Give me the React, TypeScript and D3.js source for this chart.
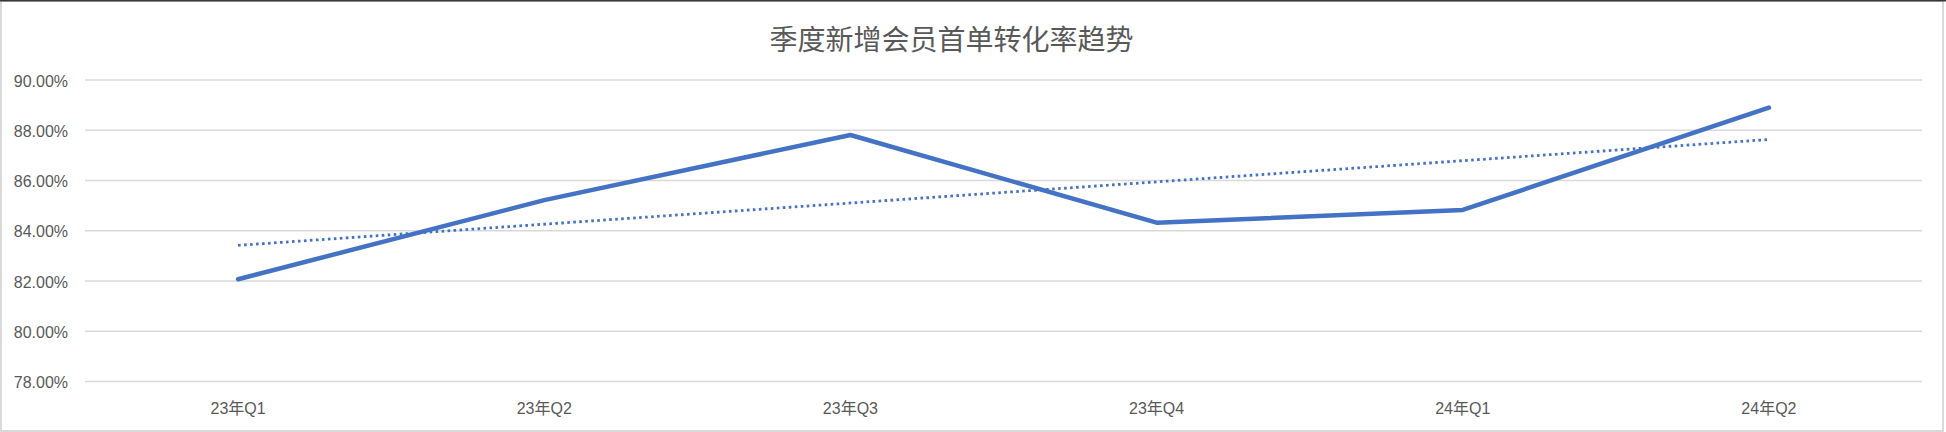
import React from "react";
import * as d3 from "d3";

const W = 1946;
const H = 432;

const title = "季度新增会员首单转化率趋势";
const categories = ["23年Q1", "23年Q2", "23年Q3", "23年Q4", "24年Q1", "24年Q2"];
const rates = [0.8207, 0.8522, 0.8781, 0.8432, 0.8483, 0.889];
const yTicks = [0.78, 0.8, 0.82, 0.84, 0.86, 0.88, 0.9];

const margin = { left: 85, right: 24, top: 80, bottom: 50.5 };

export default function App() {
  const x = d3
    .scalePoint<string>()
    .domain(categories)
    .range([margin.left, W - margin.right])
    .padding(0.5);
  const y = d3.scaleLinear().domain([0.78, 0.9]).range([H - margin.bottom, margin.top]);

  const pts: [number, number][] = rates.map((v, i) => [x(categories[i]) as number, y(v)]);
  const line = d3.line<[number, number]>().x((d) => d[0]).y((d) => d[1]);

  // linear trendline (least squares) from the data
  const n = rates.length;
  const xs = rates.map((_, i) => i + 1);
  const mx = d3.mean(xs) as number;
  const my = d3.mean(rates) as number;
  const slope =
    d3.sum(xs.map((xi, i) => (xi - mx) * (rates[i] - my))) /
    d3.sum(xs.map((xi) => (xi - mx) * (xi - mx)));
  const intercept = my - slope * mx;
  const trendPts: [number, number][] = [
    [x(categories[0]) as number, y(intercept + slope * 1)],
    [x(categories[n - 1]) as number, y(intercept + slope * n)],
  ];

  const fmt = d3.format(".2%");

  return (
    <svg
      width={W}
      height={H}
      style={{ position: "fixed", left: 0, top: 0, background: "#fff" }}
    >
      <rect x={0} y={0} width={W} height={H} fill="#fff" />
      {/* frame */}
      <rect x={1} y={1} width={1942} height={430} fill="none" stroke="#d9d9d9" strokeWidth={2} />
      <rect x={0} y={0} width={W} height={1.5} fill="#3a3a3a" />

      <text
        x={951.5}
        y={37.5}
        textAnchor="middle"
        dominantBaseline="central"
        fontFamily="'Noto Sans CJK SC', sans-serif"
        fontSize={28}
        fill="#595959"
      >
        {title}
      </text>

      {yTicks.map((t) => (
        <g key={t}>
          <line
            x1={margin.left}
            x2={W - margin.right}
            y1={y(t)}
            y2={y(t)}
            stroke="#d9d9d9"
            strokeWidth={1.5}
          />
          <text
            x={68}
            y={y(t) + 6.5}
            textAnchor="end"
            fontFamily="'Liberation Sans', Arial, sans-serif"
            fontSize={16}
            fill="#595959"
          >
            {fmt(t)}
          </text>
        </g>
      ))}

      {categories.map((c) => (
        <text
          key={c}
          x={x(c)}
          y={413.5}
          textAnchor="middle"
          fontFamily="'Liberation Sans', 'Noto Sans CJK SC', sans-serif"
          fontSize={16}
          fill="#595959"
        >
          {c}
        </text>
      ))}

      <path
        d={line(pts) || ""}
        fill="none"
        stroke="#4472C4"
        strokeWidth={4.5}
        strokeLinejoin="round"
        strokeLinecap="round"
      />
      <path
        d={line(trendPts) || ""}
        fill="none"
        stroke="#4472C4"
        strokeWidth={2.8}
        strokeDasharray="2.6 3.4"
      />
    </svg>
  );
}
